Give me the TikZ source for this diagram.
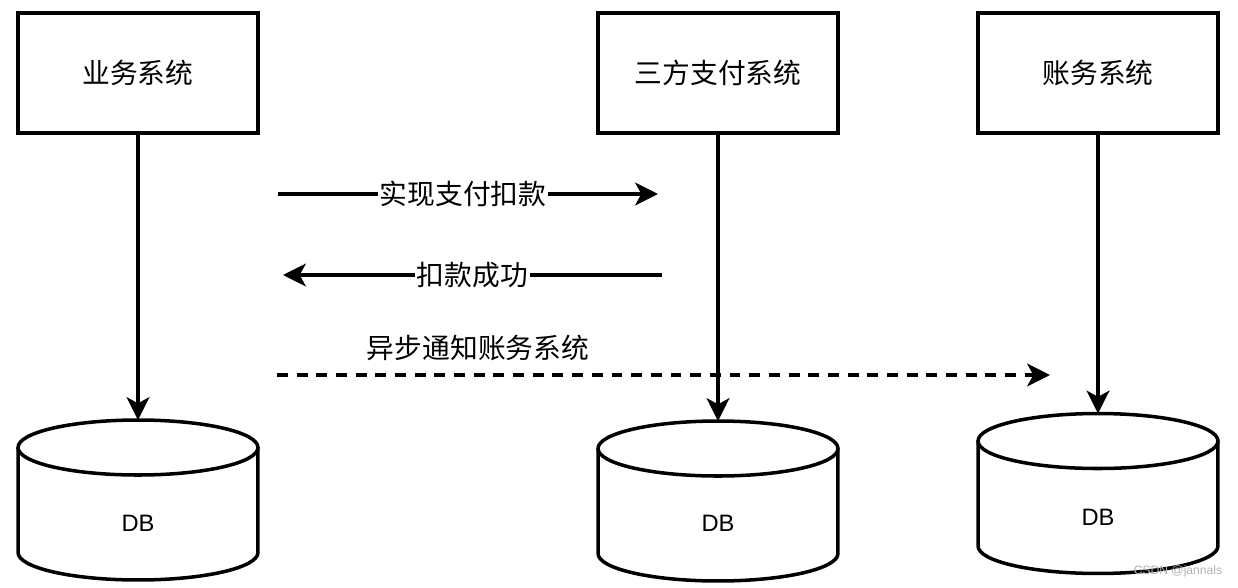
\documentclass[tikz,border=0pt]{standalone}
\usepackage{fontspec}
\setmainfont{Liberation Sans}
\newfontfamily\cjk{Noto Sans CJK SC}
\usetikzlibrary{arrows.meta}

\begin{document}
\begin{tikzpicture}[x=0.02cm, y=-0.02cm,
    sysbox/.style={draw, line width=2pt, minimum width=4.8cm, minimum height=2.4cm,
        font=\cjk\fontsize{15.8}{19}\selectfont},
    dbbox/.style={minimum width=4.8cm, minimum height=3.2cm, inner sep=0pt, outer sep=0pt},
    dbline/.style={line width=2pt},
    dbtext/.style={font=\fontsize{13.5}{16}\selectfont},
    msg/.style={line width=2pt, -{Stealth[length=13pt,width=13pt,inset=3.5pt]}},
    msgtext/.style={fill=white, inner xsep=1pt, font=\cjk\fontsize{15.8}{19}\selectfont}]
  \useasboundingbox (0,0) rectangle (1238,588);

  \node[sysbox] (biz) at (138,73) {业务系统};
  \node[sysbox] (pay) at (718,73) {三方支付系统};
  \node[sysbox] (acct) at (1098,73) {账务系统};

  \node[dbbox] (bizdb) at (138,500) {};
  \node[dbbox] (paydb) at (718,501) {};
  \node[dbbox] (acctdb) at (1098,493.5) {};
  \foreach \db in {bizdb,paydb,acctdb} {
    \draw[dbline] ([yshift=-0.55cm]\db.north) ellipse [x radius=2.4cm, y radius=0.55cm];
    \draw[dbline] ([yshift=-0.55cm]\db.north west) -- ([yshift=0.55cm]\db.south west)
      arc [start angle=180, end angle=360, x radius=2.4cm, y radius=0.55cm]
      -- ([yshift=-0.55cm]\db.north east);
  }
  \node[dbtext] (bizdbtext) at (138,523) {DB};
  \node[dbtext] (paydbtext) at (718,523) {DB};
  \node[dbtext] (acctdbtext) at (1098,517) {DB};

  \draw[msg] (biz) -- (bizdb);
  \draw[msg] (pay) -- (paydb);
  \draw[msg] (acct) -- (acctdb);

  \coordinate (chargefrom) at (278,194);
  \coordinate (chargeto) at (658,194);
  \draw[msg] (chargefrom) -- node[msgtext, pos=0.487] {实现支付扣款} (chargeto);

  \coordinate (okfrom) at (662,275);
  \coordinate (okto) at (283,275);
  \draw[msg] (okfrom) -- node[msgtext, pos=0.5] {扣款成功} (okto);

  \coordinate (notifyfrom) at (277,375);
  \coordinate (notifyto) at (1050,375);
  \draw[msg, dash pattern=on 6.2pt off 5pt] (notifyfrom) -- (notifyto);
  \node[font=\cjk\fontsize{15.8}{19}\selectfont] (notifytext) at (478,348) {异步通知账务系统};

  \node[text=gray!60, font=\fontsize{6.9}{8}\selectfont] (mark) at (1178,571) {CSDN @jannals};
\end{tikzpicture}
\end{document}
